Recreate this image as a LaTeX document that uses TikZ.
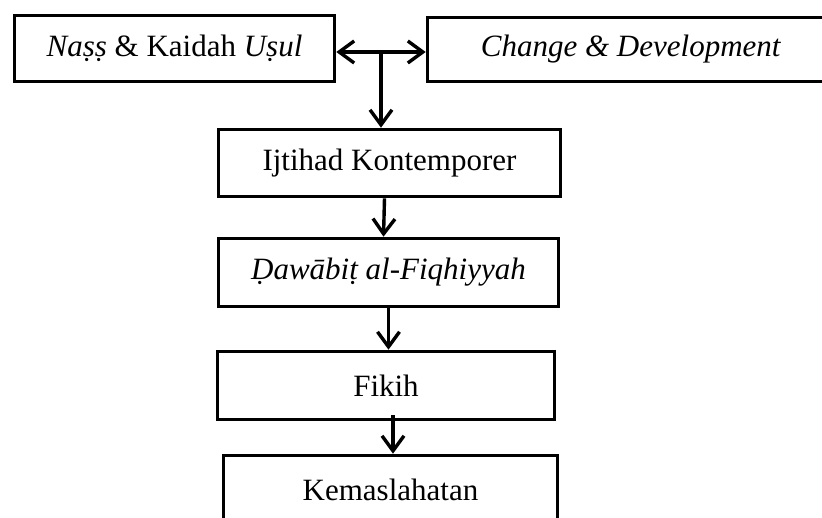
\documentclass[tikz,border=0pt]{standalone}
\usepackage{fontspec}
\setmainfont{Liberation Serif}
\usetikzlibrary{positioning,arrows.meta}
\tikzset{kotak/.style={rectangle,draw,line width=3.6pt,minimum height=67pt,inner sep=0pt,font=\fontsize{31}{36}\selectfont},
            ujung/.tip={Straight Barb[length=15pt,width=22pt]},
            panah/.style={line width=3.4pt,-ujung},
            }

\begin{document}
\begin{tikzpicture}[x=1pt,y=1pt]
    \useasboundingbox (0,0) rectangle (822,518);
    \node[kotak,minimum width=320pt,minimum height=66pt] (nash) at (174.5,469.5) {\textit{Naṣṣ} \& Kaidah \textit{Uṣul}};
    \node[kotak,minimum width=407pt,minimum height=64pt] (change) at (631,468.5) {\textit{Change \& Development}};
    \node[kotak,minimum width=342pt] (ijtihad) at (389.5,355) {Ijtihad Kontemporer};
    \node[kotak,minimum width=340pt,minimum height=68pt] (dawabit) at (388.5,245.5) {\textit{Ḍawābiṭ al-Fiqhiyyah}};
    \node[kotak,minimum width=337pt,minimum height=68pt] (fikih) at (386,132.5) {Fikih};
    \node[kotak,minimum width=334pt,minimum height=68pt] (maslahat) at (390.5,28.5) {Kemaslahatan};
    \coordinate (cabang) at (381,466);

    \draw[panah,ujung-ujung] (nash.east |- cabang) -- (change.west |- cabang);
    \draw[panah] (cabang) -- (cabang |- ijtihad.north);
    \draw[panah] ([xshift=-5pt]ijtihad.south) -- ([xshift=-5pt]dawabit.north);
    \draw[panah] (dawabit.south) -- (dawabit.south |- fikih.north);
    \draw[panah] ([xshift=7pt,yshift=6pt]fikih.south) -- ([xshift=7pt]fikih.south |- maslahat.north);

\end{tikzpicture}
\end{document}
